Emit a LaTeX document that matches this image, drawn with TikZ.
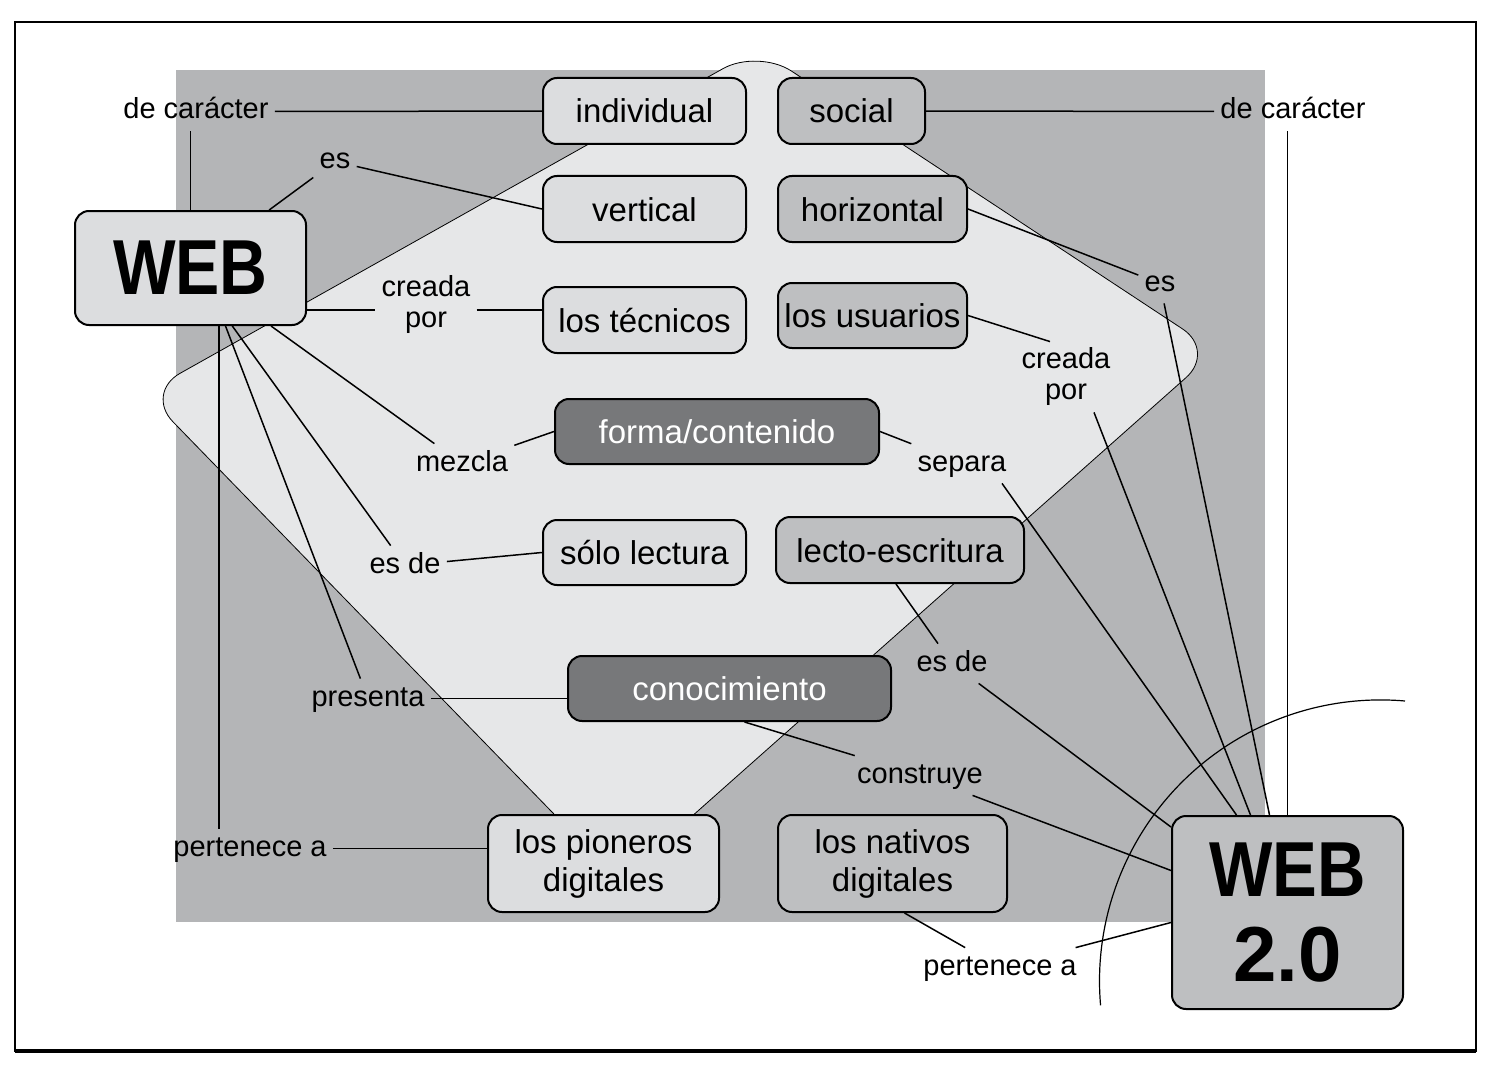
\documentclass[tikz,border=0pt]{standalone}
\usepackage{fontspec}
\setmainfont{Liberation Sans}
\usetikzlibrary{calc}
\definecolor{bggray}{HTML}{B4B5B7}
\definecolor{diamondgray}{HTML}{E6E7E8}
\definecolor{lightbox}{HTML}{DCDDDF}
\definecolor{midbox}{HTML}{BEBFC1}
\definecolor{darkbox}{HTML}{77787A}
\begin{document}
\begin{tikzpicture}[x=0.5pt,y=-0.5pt,
  nodebox/.style={draw=black,line width=1pt,rounded corners=7pt,inner sep=0pt,align=center,font=\fontsize{16.5}{19}\selectfont},
  oneline/.style={text height=15pt,text depth=3pt},
  lbox/.style={nodebox,fill=lightbox},
  mbox/.style={nodebox,fill=midbox},
  dbox/.style={nodebox,fill=darkbox,text=white},
  lab/.style={font=\fontsize{14.5}{15.5}\selectfont,inner sep=3pt,text height=10.5pt,text depth=3pt},
  labtwo/.style={font=\fontsize{14.5}{15.5}\selectfont,inner sep=3pt,align=center},
  conn/.style={line width=0.75pt},
  bigweb/.style={font=\fontsize{39}{42.5}\selectfont\bfseries},
]
% page and frame
\fill[white] (0,0) rectangle (1500,1070);
\useasboundingbox (0,0) rectangle (1500,1070);
\draw[line width=1pt] (15,22) rectangle (1476,1051);
\draw[line width=2pt] (15,1051) -- (1476,1051);
% backgrounds
\fill[bggray] (176,70) rectangle (1265,922);
\draw[fill=diamondgray,line width=0.4pt,rounded corners=20pt] (758,49) -- (1216,351) -- (619,881) -- (145,393) -- cycle;
\draw[line width=0.6pt] (1405,701) arc[start angle=85,end angle=185,radius=140.5pt];

% boxes
\node[lbox,bigweb,minimum width=115.5pt,minimum height=57pt] (web) at (190.5,268) {\scalebox{0.85}[1]{WEB}};
\node[lbox,oneline,minimum width=101.5pt,minimum height=33pt] (individual) at (644.5,111) {individual};
\node[lbox,oneline,minimum width=101.5pt,minimum height=33pt] (vertical) at (644.5,209) {vertical};
\node[lbox,oneline,minimum width=101.5pt,minimum height=33pt] (tecnicos) at (644.5,320) {los técnicos};
\node[lbox,oneline,minimum width=101.5pt,minimum height=32.5pt] (solo) at (644.5,552.5) {sólo lectura};
\node[lbox,minimum width=115.5pt,minimum height=48.5pt] (pioneros) at (603.5,863.5) {los pioneros\\digitales};

\node[mbox,oneline,minimum width=73.5pt,minimum height=33pt] (social) at (851.5,111) {social};
\node[mbox,oneline,minimum width=94.5pt,minimum height=33pt] (horizontal) at (872.5,209) {horizontal};
\node[mbox,oneline,minimum width=94.5pt,minimum height=32.5pt] (usuarios) at (872.5,315.5) {los usuarios};
\node[mbox,oneline,minimum width=124pt,minimum height=33pt] (lecto) at (900,550) {lecto-escritura};
\node[mbox,minimum width=114.5pt,minimum height=48.5pt] (nativos) at (892.5,863.5) {los nativos\\digitales};
\node[mbox,bigweb,minimum width=115.5pt,minimum height=96.5pt] (web2) at (1287.5,912.5) {\scalebox{0.86}[1]{WEB}\\2.0};

\node[dbox,oneline,minimum width=162pt,minimum height=32.5pt] (forma) at (717,431.5) {forma/contenido};
\node[dbox,oneline,minimum width=161.5pt,minimum height=32.5pt] (conocimiento) at (729.5,688.5) {conocimiento};

% linking labels
\node[lab] (dc1) at (196,111.5) {de carácter};
\node[lab] (es1) at (335,161.5) {es};
\node[labtwo] (creada1) at (426,304.5) {creada\\por};
\node[lab] (mezcla) at (462,463.5) {mezcla};
\node[lab] (esde1) at (405,565.5) {es de};
\node[lab] (presenta) at (368,698.5) {presenta};
\node[lab] (pert1) at (250,848.5) {pertenece a};
\node[lab] (dc2) at (1293,111.5) {de carácter};
\node[lab] (es2) at (1160,283.5) {es};
\node[labtwo] (creada2) at (1066,377) {creada\\por};
\node[lab] (separa) at (962,463.5) {separa};
\node[lab] (esde2) at (952,663.5) {es de};
\node[lab] (construye) at (920,775.5) {construye};
\node[lab] (pert2) at (1000,967.5) {pertenece a};

% connectors (left: WEB)
\draw[conn] (individual) -- (dc1);
\draw[conn] (dc1.south -| web.north) -- (web.north);
\draw[conn] (web) -- (es1);
\draw[conn] (es1) -- (vertical.west);
\coordinate (cpy) at (426,310);
\draw[conn] (cpy -| web.east) -- (cpy -| creada1.west);
\draw[conn] (cpy -| creada1.east) -- (cpy -| tecnicos.west);
\draw[conn] (web) -- (mezcla);
\draw[conn] (mezcla) -- (forma.west);
\draw[conn] (web) -- (esde1);
\draw[conn] (esde1) -- (solo.west);
\draw[conn] ($(web.south)+(35,0)$) -- (presenta);
\draw[conn] (presenta.east) -- (presenta.east -| conocimiento.west);
\coordinate (wv) at ($(web.south)+(28.5,0)$);
\draw[conn] (wv) -- (wv |- pert1.north);
\draw[conn] (pert1.east) -- (pert1.east -| pioneros.west);

% connectors (right: WEB 2.0)
\draw[conn] (social) -- (dc2);
\draw[conn] (dc2.south -| web2.north) -- (web2.north);
\draw[conn] (horizontal.east) -- (es2);
\draw[conn] (es2) -- ($(web2.north)+(-18,0)$);
\draw[conn] (usuarios.east) -- ($(creada2.north)+(-16,0)$);
\draw[conn] ($(creada2.south)+(28,0)$) -- ($(web2.north)+(-37,0)$);
\draw[conn] (forma.east) -- (separa);
\draw[conn] ($(separa.south)+(40,0)$) -- ($(web2.north)+(-51,0)$);
\draw[conn] ($(lecto.south)+(-4,0)$) -- (esde2);
\draw[conn] (esde2) -- ($(web2.north west)+(0,12)$);
\draw[conn] ($(conocimiento.south)+(15,0)$) -- (construye);
\draw[conn] (construye) -- ($(web2.west)+(0,-42)$);
\draw[conn] ($(nativos.south)+(12,0)$) -- (pert2);
\draw[conn] (pert2) -- ($(web2.west)+(0,10)$);
\end{tikzpicture}
\end{document}
